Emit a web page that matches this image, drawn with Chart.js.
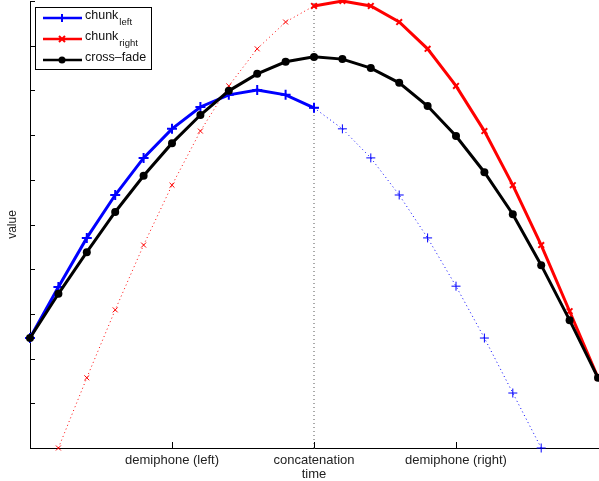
<!DOCTYPE html>
<html>
<head>
<meta charset="utf-8">
<script src="https://cdn.jsdelivr.net/npm/chart.js@4"></script>
<style>
  html, body { margin: 0; padding: 0; background: #fff; }
  canvas { display: block; }
</style>
</head>
<body>
<canvas id="chart" width="599" height="481"></canvas>
<script>
// data (x = sample step, y = value on a 0..10 axis)
const steps = [0, 1, 2, 3, 4, 5, 6, 7, 8, 9, 10, 11, 12, 13, 14, 15, 16, 17, 18, 19, 20];
const chunkLeft = [2.46, 3.60, 4.70, 5.66, 6.49, 7.14, 7.63, 7.90, 8.01, 7.90, 7.61, 7.14, 6.49, 5.66, 4.70, 3.62, 2.46, 1.23, 0.00];
const chunkRight = [null, 0.00, 1.57, 3.09, 4.54, 5.88, 7.09, 8.10, 8.93, 9.53, 9.89, 10.0, 9.89, 9.53, 8.93, 8.10, 7.09, 5.88, 4.54, 3.06, 1.57];
const crossFade = [2.46, 3.45, 4.38, 5.28, 6.09, 6.82, 7.45, 7.99, 8.37, 8.64, 8.75, 8.70, 8.50, 8.17, 7.65, 6.98, 6.17, 5.23, 4.09, 2.86, 1.57];
const concatStep = 10;
const xTickValues = [5, 10, 15];
const xTickLabels = ["demiphone (left)", "concatenation", "demiphone (right)"];
const yMin = 0, yMax = 10;

const FONT = '"Liberation Sans", Arial, Helvetica, sans-serif';

function pts(arr, from, to) {
    const out = [];
    for (let i = from; i <= to && i < arr.length; i++) {
        if (arr[i] !== null) out.push({ x: steps[i], y: arr[i] });
    }
    return out;
}

// inward tick marks, matlab style
const inwardTicks = {
    id: "inwardTicks",
    afterDatasetsDraw(chart) {
        const { ctx, chartArea, scales } = chart;
        ctx.save();
        ctx.strokeStyle = "#000";
        ctx.lineWidth = 1;
        ctx.beginPath();
        scales.y.ticks.forEach((t) => {
            const py = Math.round(scales.y.getPixelForValue(t.value)) + 0.5;
            ctx.moveTo(chartArea.left, py);
            ctx.lineTo(chartArea.left + 5, py);
        });
        scales.x.ticks.forEach((t) => {
            const px = Math.round(scales.x.getPixelForValue(t.value)) + 0.5;
            ctx.moveTo(px, chartArea.bottom);
            ctx.lineTo(px, chartArea.bottom - 6);
        });
        ctx.stroke();
        ctx.restore();
    },
};

function drawMarker(ctx, style, x, y) {
    ctx.beginPath();
    if (style === "cross") {
        ctx.moveTo(x - 4, y); ctx.lineTo(x + 4, y);
        ctx.moveTo(x, y - 4); ctx.lineTo(x, y + 4);
        ctx.stroke();
    } else if (style === "crossRot") {
        ctx.moveTo(x - 3, y - 3); ctx.lineTo(x + 3, y + 3);
        ctx.moveTo(x + 3, y - 3); ctx.lineTo(x - 3, y + 3);
        ctx.stroke();
    } else {
        ctx.arc(x, y, 3.5, 0, Math.PI * 2);
        ctx.fill();
    }
}

// legend with subscripts
const legendBox = {
    id: "legendBox",
    afterDraw(chart) {
        const ctx = chart.ctx;
        const entries = [
            { color: "#0000ff", marker: "cross", main: "chunk", sub: "left" },
            { color: "#ff0000", marker: "crossRot", main: "chunk", sub: "right" },
            { color: "#000000", marker: "circle", main: "cross\u2013fade", sub: "" },
        ];
        ctx.save();
        ctx.fillStyle = "#fff";
        ctx.fillRect(35, 7, 116, 62);
        ctx.strokeStyle = "#000";
        ctx.lineWidth = 1;
        ctx.strokeRect(35.5, 7.5, 116, 62);
        entries.forEach((e, i) => {
            const y = 18 + i * 21;
            ctx.strokeStyle = e.color;
            ctx.fillStyle = e.color;
            ctx.lineWidth = 2.5;
            ctx.beginPath();
            ctx.moveTo(43, y);
            ctx.lineTo(82, y);
            ctx.stroke();
            ctx.lineWidth = 2;
            drawMarker(ctx, e.marker, 62, y);
            ctx.fillStyle = "#111";
            ctx.textBaseline = "middle";
            ctx.font = "12.5px " + FONT;
            ctx.fillText(e.main, 85, y - 2);
            if (e.sub) {
                const w = ctx.measureText(e.main).width;
                ctx.font = "9.5px " + FONT;
                ctx.fillText(e.sub, 85 + w + 1, y + 4);
            }
        });
        ctx.restore();
    },
};

new Chart(document.getElementById("chart"), {
    type: "line",
    data: {
        datasets: [
            {
                data: pts(crossFade, 0, 20),
                borderColor: "#000",
                backgroundColor: "#000",
                borderWidth: 3,
                pointStyle: "circle",
                pointRadius: 4,
                pointBorderWidth: 0,
            },
            {
                data: pts(chunkRight, 10, 20),
                borderColor: "#ff0000",
                backgroundColor: "#ff0000",
                borderWidth: 3,
                pointStyle: "crossRot",
                pointRadius: 4,
                pointBorderWidth: 2,
            },
            {
                data: pts(chunkLeft, 0, 10),
                borderColor: "#0000ff",
                backgroundColor: "#0000ff",
                borderWidth: 3,
                pointStyle: "cross",
                pointRadius: 5,
                pointBorderWidth: 2,
            },
            {
                data: pts(chunkRight, 0, 10),
                borderColor: "#ff0000",
                backgroundColor: "#ff0000",
                borderWidth: 1,
                borderDash: [1, 3],
                pointStyle: "crossRot",
                pointRadius: 3.5,
                pointBorderWidth: 1,
            },
            {
                data: pts(chunkLeft, 10, 18),
                borderColor: "#0000ff",
                backgroundColor: "#0000ff",
                borderWidth: 1,
                borderDash: [1, 3],
                pointStyle: "cross",
                pointRadius: 4.5,
                pointBorderWidth: 1,
            },
            {
                data: [{ x: concatStep, y: yMin }, { x: concatStep, y: yMax }],
                borderColor: "#555",
                borderWidth: 1,
                borderDash: [1, 3],
                pointRadius: 0,
            },
        ],
    },
    options: {
        responsive: false,
        animation: false,
        devicePixelRatio: 1,
        clip: false,
        elements: { line: { tension: 0 } },
        layout: { autoPadding: false, padding: { top: 1, right: 1, left: 0, bottom: 0 } },
        plugins: {
            legend: { display: false },
            tooltip: { enabled: false },
        },
        scales: {
            x: {
                type: "linear",
                min: steps[0],
                max: steps[steps.length - 1],
                grid: { display: false, drawTicks: false },
                border: { display: true, color: "#000", width: 1 },
                afterBuildTicks: (s) => {
                    s.ticks = xTickValues.map((v) => ({ value: v }));
                },
                afterFit: (s) => { s.height = 33; },
                ticks: {
                    autoSkip: false,
                    maxRotation: 0,
                    padding: 5,
                    color: "#222",
                    font: { family: FONT, size: 13 },
                    callback: (v) => xTickLabels[xTickValues.indexOf(v)],
                },
                title: {
                    display: true,
                    text: "time",
                    color: "#222",
                    font: { family: FONT, size: 13, lineHeight: 1 },
                    padding: { top: 0, bottom: 0 },
                },
            },
            y: {
                type: "linear",
                min: yMin,
                max: yMax,
                grid: { display: false, drawTicks: false },
                border: { display: true, color: "#000", width: 1 },
                afterFit: (s) => { s.width = 30; },
                ticks: { stepSize: 1, display: false },
                title: {
                    display: true,
                    text: "value",
                    color: "#222",
                    font: { family: FONT, size: 12, lineHeight: 1 },
                    padding: { top: 7, bottom: 0 },
                },
            },
        },
    },
    plugins: [inwardTicks, legendBox],
});
</script>
</body>
</html>
